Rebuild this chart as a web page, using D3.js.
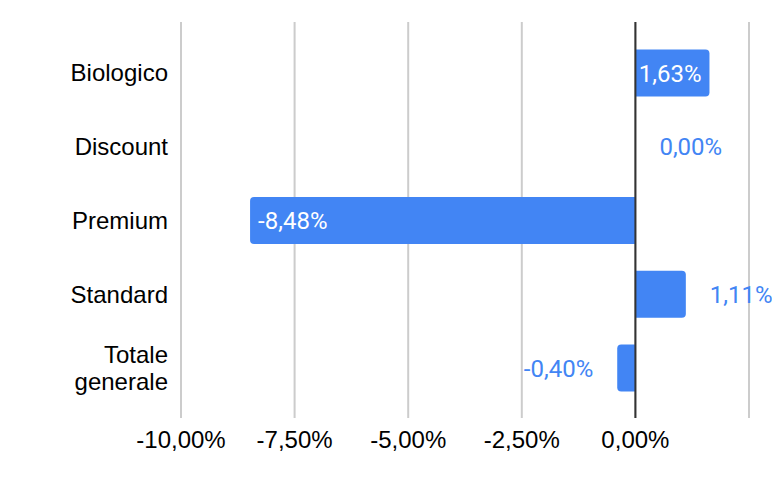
<!DOCTYPE html>
<html>
<head>
<meta charset="utf-8">
<script src="https://cdn.jsdelivr.net/npm/d3@7"></script>
<style>
  body { margin: 0; background: #fff; }
  .lab { font-family: Arial, "Liberation Sans", sans-serif; }
  .val { font-family: Roboto, Arial, sans-serif; }
</style>
</head>
<body>
<svg id="chart" width="772" height="478"></svg>
<script>
// categorie e valori (variazione %)
var categories = ["Biologico", "Discount", "Premium", "Standard", "Totale generale"];
var values = [1.63, 0.00, -8.48, 1.11, -0.40];
var tickValues = [-10, -7.5, -5, -2.5, 0, 2.5];
var tickLabels = ["-10,00%", "-7,50%", "-5,00%", "-2,50%", "0,00%", ""];
// etichette dentro la barra?
var labelInside = [true, false, true, false, false];

var svg = d3.select("#chart"),
  width = 772,
  height = 478;

var margin = {top: 22, right: 23, bottom: 60, left: 181};

var x = d3.scaleLinear()
  .domain([-10, 2.5])
  .range([margin.left, width - margin.right]);

var y = d3.scaleBand()
  .domain(categories)
  .range([36.1, 404.9])
  .paddingInner(0.36)
  .paddingOuter(0.18);

var fmt = function(v) {
  return v.toFixed(2).replace(".", ",") + "%";
};

// gridlines
svg.append("g")
  .selectAll("line")
  .data(tickValues)
  .enter()
  .append("line")
    .attr("x1", d => x(d))
    .attr("x2", d => x(d))
    .attr("y1", margin.top)
    .attr("y2", height - margin.bottom)
    .attr("stroke", "#cccccc")
    .attr("stroke-width", 2);

// tick labels
svg.append("g")
  .selectAll("text")
  .data(tickValues)
  .enter()
  .append("text")
    .attr("class", "lab")
    .attr("x", d => x(d))
    .attr("y", 448)
    .attr("text-anchor", "middle")
    .attr("font-size", 24)
    .attr("fill", "#000")
    .text((d, i) => tickLabels[i]);

// bar path with rounded outer end
function barPath(v, cat) {
  var x0 = x(0), x1 = x(v), y0 = y(cat), h = y.bandwidth();
  var w = Math.abs(x1 - x0);
  if (w < 0.5) return "";
  var r = Math.min(4, w);
  var s = v >= 0 ? 1 : -1;
  return "M" + x0 + "," + y0 +
    "H" + (x1 - s * r) +
    "Q" + x1 + "," + y0 + " " + x1 + "," + (y0 + r) +
    "V" + (y0 + h - r) +
    "Q" + x1 + "," + (y0 + h) + " " + (x1 - s * r) + "," + (y0 + h) +
    "H" + x0 + "Z";
}

svg.append("g")
  .selectAll("path")
  .data(values)
  .enter()
  .append("path")
    .attr("d", (d, i) => barPath(d, categories[i]))
    .attr("fill", "#4285f4");

// zero line
svg.append("line")
  .attr("x1", x(0))
  .attr("x2", x(0))
  .attr("y1", margin.top)
  .attr("y2", height - margin.bottom)
  .attr("stroke", "#333333")
  .attr("stroke-width", 2);

// value labels
svg.append("g")
  .selectAll("text")
  .data(values)
  .enter()
  .append("text")
    .attr("class", "val")
    .attr("x", function(d, i) {
      var s = d >= 0 ? 1 : -1;
      if (labelInside[i]) return x(d) - s * 8;
      return x(d) + s * 24;
    })
    .attr("y", (d, i) => y(categories[i]) + y.bandwidth() / 2)
    .attr("dy", "0.36em")
    .attr("text-anchor", function(d, i) {
      var pos = d >= 0;
      if (labelInside[i]) pos = !pos;
      return pos ? "start" : "end";
    })
    .attr("font-size", 24)
    .attr("fill", (d, i) => labelInside[i] ? "#ffffff" : "#4285f4")
    .text(d => fmt(d));

// category labels (Totale generale su due righe, come due testi)
var catLines = [];
categories.forEach(function(d) {
  var parts = d === "Totale generale" ? ["Totale", "generale"] : [d];
  parts.forEach(function(p, k) {
    catLines.push({cat: d, text: p, off: (k - (parts.length - 1) / 2) * 1.1});
  });
});

svg.append("g")
  .selectAll("text")
  .data(catLines)
  .enter()
  .append("text")
    .attr("class", "lab")
    .attr("x", margin.left - 13)
    .attr("y", d => y(d.cat) + y.bandwidth() / 2)
    .attr("dy", d => (0.35 + d.off) + "em")
    .attr("text-anchor", "end")
    .attr("font-size", 24)
    .attr("fill", "#000")
    .text(d => d.text);
</script>
</body>
</html>
